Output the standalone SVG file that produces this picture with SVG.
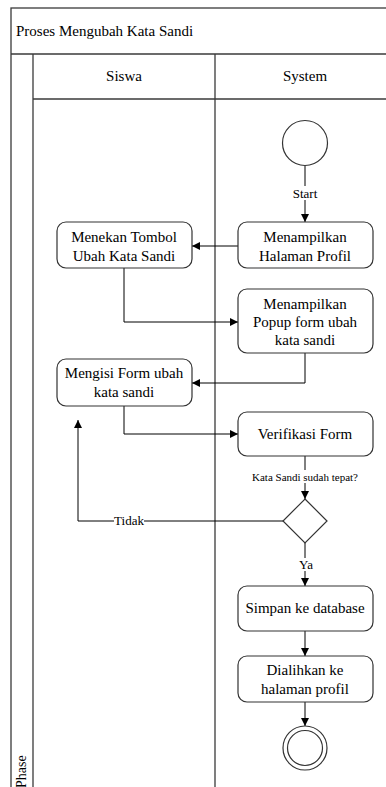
<svg xmlns="http://www.w3.org/2000/svg" width="386" height="787" viewBox="0 0 386 787">
  <style>
    .lane { fill: none; stroke: #3a3a3a; stroke-width: 1.3; }
    .node { fill: #ffffff; stroke: #333333; stroke-width: 1.2; }
    .edge { fill: none; stroke: #000000; stroke-width: 1; }
    .t { font-family: "Liberation Serif", "Times New Roman", serif; font-size: 15px; fill: #000000; text-anchor: middle; }
    .lbl { font-family: "Liberation Serif", "Times New Roman", serif; font-size: 13px; fill: #000000; text-anchor: middle; }
    .small { font-family: "Liberation Serif", "Times New Roman", serif; font-size: 11px; fill: #000000; text-anchor: middle; }
  </style>
  <defs>
    <marker id="arrow" viewBox="0 0 10 10" refX="10" refY="5" markerWidth="8" markerHeight="8" markerUnits="userSpaceOnUse" orient="auto">
      <path d="M0,0 L10,5 L0,10 z" fill="#000000"/>
    </marker>
  </defs>
  <rect width="386" height="787" fill="#ffffff"/>

  <!-- pool and swimlanes -->
  <g id="pool">
    <rect class="lane" x="11" y="8" width="390" height="790"/>
    <line class="lane" x1="11" y1="54" x2="401" y2="54"/>
    <text x="16" y="36" font-family="Liberation Serif, Times New Roman, serif" font-size="15" fill="#000">Proses Mengubah Kata Sandi</text>
    <line class="lane" x1="33" y1="54" x2="33" y2="798"/>
    <line class="lane" x1="215" y1="54" x2="215" y2="798"/>
    <line class="lane" x1="33" y1="99" x2="401" y2="99"/>
    <text class="t" x="124" y="81">Siswa</text>
    <text class="t" x="305" y="81">System</text>
    <text x="0" y="0" transform="translate(26,788) rotate(-90)" font-family="Liberation Serif, Times New Roman, serif" font-size="14" fill="#000">Phase</text>
  </g>

  <!-- connectors -->
  <g id="connectors">
    <line class="edge" x1="305" y1="166" x2="305" y2="222" marker-end="url(#arrow)"/>
    <line class="edge" x1="238" y1="246" x2="192" y2="246" marker-end="url(#arrow)"/>
    <polyline class="edge" points="124,268 124,322 238,322" marker-end="url(#arrow)"/>
    <polyline class="edge" points="305,353 305,383 192,383" marker-end="url(#arrow)"/>
    <polyline class="edge" points="124,406 124,434 238,434" marker-end="url(#arrow)"/>
    <line class="edge" x1="305" y1="456" x2="305" y2="499" marker-end="url(#arrow)"/>
    <polyline class="edge" points="283,521 78,521 78,420" marker-end="url(#arrow)"/>
    <line class="edge" x1="305" y1="543" x2="305" y2="586" marker-end="url(#arrow)"/>
    <line class="edge" x1="305" y1="631" x2="305" y2="656" marker-end="url(#arrow)"/>
    <line class="edge" x1="305" y1="702" x2="305" y2="726" marker-end="url(#arrow)"/>

    <rect x="289" y="186" width="32" height="14" fill="#ffffff"/>
    <text class="lbl" x="305" y="198">Start</text>
    <rect x="250" y="470" width="110" height="13" fill="#ffffff"/>
    <text class="small" x="305" y="481">Kata Sandi sudah tepat?</text>
    <rect x="114" y="515" width="30" height="12" fill="#ffffff"/>
    <text class="lbl" x="129" y="525">Tidak</text>
    <rect x="297" y="558" width="16" height="13" fill="#ffffff"/>
    <text class="lbl" x="306" y="569">Ya</text>
  </g>

  <g id="start">
    <circle class="node" cx="305" cy="143" r="22.5"/>
  </g>

  <g id="tampil-profil">
    <rect class="node" x="238" y="222" width="135" height="46" rx="9"/>
    <text class="t" x="305" y="242">Menampilkan</text>
    <text class="t" x="305" y="261">Halaman Profil</text>
  </g>

  <g id="tekan-tombol">
    <rect class="node" x="57" y="222" width="135" height="46" rx="9"/>
    <text class="t" x="124" y="242">Menekan Tombol</text>
    <text class="t" x="124" y="261">Ubah Kata Sandi</text>
  </g>

  <g id="tampil-popup">
    <rect class="node" x="238" y="289" width="135" height="64" rx="9"/>
    <text class="t" x="305" y="309">Menampilkan</text>
    <text class="t" x="305" y="327">Popup form ubah</text>
    <text class="t" x="305" y="345">kata sandi</text>
  </g>

  <g id="isi-form">
    <rect class="node" x="57" y="359" width="135" height="47" rx="9"/>
    <text class="t" x="124" y="378">Mengisi Form ubah</text>
    <text class="t" x="124" y="397">kata sandi</text>
  </g>

  <g id="verifikasi">
    <rect class="node" x="238" y="412" width="135" height="44" rx="9"/>
    <text class="t" x="305" y="439">Verifikasi Form</text>
  </g>

  <g id="cek-sandi">
    <polygon class="node" points="305,499 327,521 305,543 283,521"/>
  </g>

  <g id="simpan">
    <rect class="node" x="238" y="586" width="135" height="45" rx="9"/>
    <text class="t" x="305" y="613">Simpan ke database</text>
  </g>

  <g id="dialihkan">
    <rect class="node" x="238" y="656" width="135" height="46" rx="9"/>
    <text class="t" x="305" y="675">Dialihkan ke</text>
    <text class="t" x="305" y="694">halaman profil</text>
  </g>

  <g id="end">
    <circle class="node" cx="305" cy="748" r="22"/>
    <circle class="node" cx="305" cy="748" r="17.5"/>
  </g>
</svg>
